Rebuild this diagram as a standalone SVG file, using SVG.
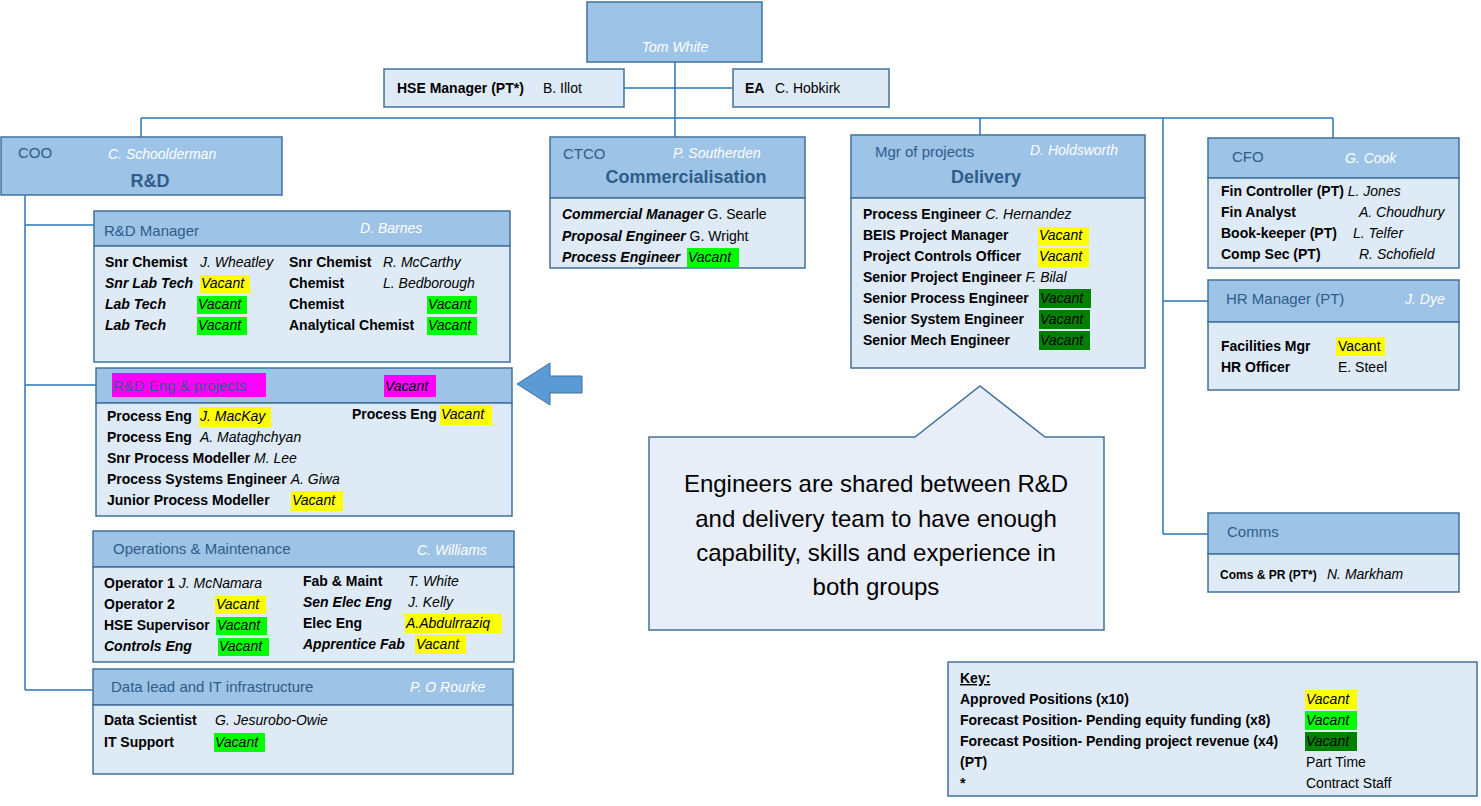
<svg xmlns="http://www.w3.org/2000/svg" width="1481" height="806" viewBox="0 0 1481 806">
<style>
text{font-family:"Liberation Sans",Arial,sans-serif;font-size:14px;fill:#000}
.h{fill:#9dc3e6;stroke:#41719c;stroke-width:1.5}
.b{fill:#deebf7;stroke:#41719c;stroke-width:1.5}
.t{fill:#2f5c8a;font-size:15px}
.tb{fill:#2f5c8a;font-size:18px;font-weight:bold}
.w{fill:#fff;font-style:italic}
.l{font-weight:bold}
.li{font-weight:bold;font-style:italic}
.v{font-style:italic}
.y{fill:#ffff00}.g{fill:#00ff00}.dg{fill:#008000}.m{fill:#ff00ff}
.c{fill:none;stroke:#2e75b6;stroke-width:1.5}
</style>
<rect width="1481" height="806" fill="#fff"/>
<g id="connectors">
<path class="c" d="M675 62V137M141 118H1333M141 118V137M980 118V135M1163 118V534M1333 118V138M1163 301H1208M1163 534H1208M624 88H733M25 195V690M25 225H94M25 385H96M25 690H93"/>
</g>
<g id="tom"><rect class="h" x="587" y="2" width="175" height="60"/><text class="w" x="675" y="52" text-anchor="middle">Tom White</text></g>
<g id="hse"><rect class="b" x="384" y="69" width="240" height="38"/><text class="l" x="397" y="93">HSE Manager (PT*)</text><text x="543" y="93">B. Illot</text></g>
<g id="ea"><rect class="b" x="733" y="69" width="156" height="38"/><text class="l" x="745" y="93">EA</text><text x="775" y="93">C. Hobkirk</text></g>
<g id="coo"><rect class="h" x="1" y="137" width="281" height="58"/><text class="t" x="18" y="158">COO</text><text class="w" x="108" y="159">C. Schoolderman</text><text class="tb" x="150" y="187" text-anchor="middle">R&amp;D</text></g>
<g id="rdm"><rect class="h" x="94" y="211" width="416" height="35"/><rect class="b" x="94" y="246" width="416" height="116"/>
<text class="t" x="104" y="236">R&amp;D Manager</text><text class="w" x="360" y="233">D. Barnes</text>
<rect class="y" x="200" y="275" width="50" height="18"/><rect class="g" x="197" y="296" width="50" height="18"/><rect class="g" x="197" y="317" width="50" height="18"/><rect class="g" x="427" y="296" width="50" height="18"/><rect class="g" x="427" y="317" width="50" height="18"/>
<text class="l" x="105" y="267">Snr Chemist</text><text class="v" x="200" y="267">J. Wheatley</text><text class="l" x="289" y="267">Snr Chemist</text><text class="v" x="383" y="267">R. McCarthy</text>
<text class="li" x="105" y="288">Snr Lab Tech</text><text class="v" x="201" y="288">Vacant</text><text class="l" x="289" y="288">Chemist</text><text class="v" x="383" y="288">L. Bedborough</text>
<text class="li" x="105" y="309">Lab Tech</text><text class="v" x="198" y="309">Vacant</text><text class="l" x="289" y="309">Chemist</text><text class="v" x="428" y="309">Vacant</text>
<text class="li" x="105" y="330">Lab Tech</text><text class="v" x="198" y="330">Vacant</text><text class="l" x="289" y="330">Analytical Chemist</text><text class="v" x="428" y="330">Vacant</text></g>
<g id="rde"><rect class="h" x="96" y="368" width="416" height="35"/><rect class="b" x="96" y="403" width="416" height="113"/>
<rect class="m" x="112" y="373" width="154" height="24"/><rect class="m" x="384" y="375" width="52" height="22"/>
<text class="t" x="113" y="391">R&amp;D Eng &amp; projects</text><text class="v" x="385" y="391">Vacant</text>
<rect class="y" x="199" y="407" width="72" height="20"/><rect class="y" x="440" y="405" width="52" height="20"/><rect class="y" x="291" y="491" width="52" height="20"/>
<text class="l" x="107" y="421">Process Eng</text><text class="v" x="200" y="421">J. MacKay</text><text class="l" x="352" y="419">Process Eng</text><text class="v" x="441" y="419">Vacant</text>
<text class="l" x="107" y="442">Process Eng</text><text class="v" x="200" y="442">A. Mataghchyan</text>
<text class="l" x="107" y="463">Snr Process Modeller <tspan class="v" font-weight="normal">M. Lee</tspan></text>
<text class="l" x="107" y="484">Process Systems Engineer <tspan class="v" font-weight="normal">A. Giwa</tspan></text>
<text class="l" x="107" y="505">Junior Process Modeller</text><text class="v" x="292" y="505">Vacant</text></g>
<g id="arrow"><path d="M517 384L550 363V376H582V393H550V405Z" fill="#5b9bd5" stroke="#41719c"/></g>
<g id="ops"><rect class="h" x="93" y="531" width="421" height="36"/><rect class="b" x="93" y="567" width="421" height="95"/>
<text class="t" x="113" y="554">Operations &amp; Maintenance</text><text class="w" x="417" y="555">C. Williams</text>
<rect class="y" x="215" y="596" width="51" height="18"/><rect class="g" x="216" y="617" width="51" height="18"/><rect class="g" x="218" y="638" width="51" height="18"/><rect class="y" x="405" y="614" width="97" height="19"/><rect class="y" x="415" y="635" width="51" height="19"/>
<text class="l" x="104" y="588">Operator 1 <tspan class="v" font-weight="normal">J. McNamara</tspan></text><text class="l" x="303" y="586">Fab &amp; Maint</text><text class="v" x="408" y="586">T. White</text>
<text class="l" x="104" y="609">Operator 2</text><text class="v" x="216" y="609">Vacant</text><text class="li" x="303" y="607">Sen Elec Eng</text><text class="v" x="408" y="607">J. Kelly</text>
<text class="l" x="104" y="630">HSE Supervisor</text><text class="v" x="217" y="630">Vacant</text><text class="l" x="303" y="628">Elec Eng</text><text class="v" x="406" y="628">A.Abdulrraziq</text>
<text class="li" x="104" y="651">Controls Eng</text><text class="v" x="219" y="651">Vacant</text><text class="li" x="303" y="649">Apprentice Fab</text><text class="v" x="416" y="649">Vacant</text></g>
<g id="data"><rect class="h" x="93" y="669" width="420" height="36"/><rect class="b" x="93" y="705" width="420" height="69"/>
<text class="t" x="111" y="692">Data lead and IT infrastructure</text><text class="w" x="410" y="692">P. O Rourke</text>
<rect class="g" x="214" y="733" width="51" height="19"/>
<text class="l" x="104" y="725">Data Scientist</text><text class="v" x="215" y="725">G. Jesurobo-Owie</text>
<text class="l" x="104" y="747">IT Support</text><text class="v" x="215" y="747">Vacant</text></g>
<g id="ctco"><rect class="h" x="550" y="137" width="255" height="61"/><rect class="b" x="550" y="198" width="255" height="70"/>
<text class="t" x="563" y="159">CTCO</text><text class="w" x="673" y="158">P. Southerden</text><text class="tb" x="686" y="183" text-anchor="middle">Commercialisation</text>
<rect class="g" x="687" y="248" width="52" height="19"/>
<text class="li" x="562" y="219">Commercial Manager <tspan font-weight="normal" font-style="normal">G. Searle</tspan></text>
<text class="li" x="562" y="241">Proposal Engineer <tspan font-weight="normal" font-style="normal">G. Wright</tspan></text>
<text class="li" x="562" y="262">Process Engineer</text><text class="v" x="688" y="262">Vacant</text></g>
<g id="del"><rect class="h" x="851" y="135" width="294" height="63"/><rect class="b" x="851" y="198" width="294" height="170"/>
<text class="t" x="875" y="157">Mgr of projects</text><text class="w" x="1030" y="155">D. Holdsworth</text><text class="tb" x="986" y="183" text-anchor="middle">Delivery</text>
<rect class="y" x="1038" y="227" width="51" height="19"/><rect class="y" x="1038" y="248" width="51" height="19"/><rect class="dg" x="1039" y="289" width="52" height="19"/><rect class="dg" x="1039" y="310" width="51" height="19"/><rect class="dg" x="1039" y="331" width="51" height="19"/>
<text class="l" x="863" y="219">Process Engineer <tspan class="v" font-weight="normal">C. Hernandez</tspan></text>
<text class="l" x="863" y="240">BEIS Project Manager</text><text class="v" x="1039" y="240">Vacant</text>
<text class="l" x="863" y="261">Project Controls Officer</text><text class="v" x="1039" y="261">Vacant</text>
<text class="l" x="863" y="282">Senior Project Engineer <tspan class="v" font-weight="normal">F. Bilal</tspan></text>
<text class="l" x="863" y="303">Senior Process Engineer</text><text class="v" x="1040" y="303">Vacant</text>
<text class="l" x="863" y="324">Senior System Engineer</text><text class="v" x="1040" y="324">Vacant</text>
<text class="l" x="863" y="345">Senior Mech Engineer</text><text class="v" x="1040" y="345">Vacant</text></g>
<g id="callout"><path d="M649 437H915L980 386L1045 437H1104V630H649Z" fill="#e8eef7" stroke="#41719c" stroke-width="1.5"/>
<g text-anchor="middle"><text x="876" y="492" style="font-size:24px">Engineers are shared between R&amp;D</text><text x="876" y="527" style="font-size:24px">and delivery team to have enough</text><text x="876" y="561" style="font-size:24px">capability, skills and experience in</text><text x="876" y="595" style="font-size:24px">both groups</text></g></g>
<g id="cfo"><rect class="h" x="1208" y="138" width="251" height="40"/><rect class="b" x="1208" y="178" width="251" height="90"/>
<text class="t" x="1232" y="162">CFO</text><text class="w" x="1345" y="163">G. Cook</text>
<text class="l" x="1221" y="196">Fin Controller (PT) <tspan class="v" font-weight="normal">L. Jones</tspan></text>
<text class="l" x="1221" y="217">Fin Analyst</text><text class="v" x="1359" y="217">A. Choudhury</text>
<text class="l" x="1221" y="238">Book-keeper (PT)</text><text class="v" x="1353" y="238">L. Telfer</text>
<text class="l" x="1221" y="259">Comp Sec (PT)</text><text class="v" x="1359" y="259">R. Schofield</text></g>
<g id="hr"><rect class="h" x="1208" y="280" width="251" height="42"/><rect class="b" x="1208" y="322" width="251" height="68"/>
<text class="t" x="1226" y="304">HR Manager (PT)</text><text class="w" x="1405" y="304">J. Dye</text>
<rect class="y" x="1336" y="337" width="49" height="19"/>
<text class="l" x="1221" y="351">Facilities Mgr</text><text x="1338" y="351">Vacant</text>
<text class="l" x="1221" y="372">HR Officer</text><text x="1338" y="372">E. Steel</text></g>
<g id="comms"><rect class="h" x="1208" y="513" width="251" height="41"/><rect class="b" x="1208" y="554" width="251" height="38"/>
<text class="t" x="1227" y="537">Comms</text><text class="l" x="1220" y="579" style="font-size:12px">Coms &amp; PR (PT*)</text><text class="v" x="1327" y="579">N. Markham</text></g>
<g id="key"><rect class="b" x="948" y="662" width="529" height="134"/>
<text class="l" x="960" y="683" text-decoration="underline">Key:</text>
<rect class="y" x="1305" y="690" width="52" height="19"/><rect class="g" x="1305" y="711" width="52" height="19"/><rect class="dg" x="1305" y="732" width="52" height="19"/>
<text class="l" x="960" y="704">Approved Positions (x10)</text><text class="v" x="1306" y="704">Vacant</text>
<text class="l" x="960" y="725">Forecast Position- Pending equity funding (x8)</text><text class="v" x="1306" y="725">Vacant</text>
<text class="l" x="960" y="746">Forecast Position- Pending project revenue (x4)</text><text class="v" x="1306" y="746">Vacant</text>
<text class="l" x="960" y="767">(PT)</text><text x="1306" y="767">Part Time</text>
<text class="l" x="960" y="788">*</text><text x="1306" y="788">Contract Staff</text></g>
</svg>
